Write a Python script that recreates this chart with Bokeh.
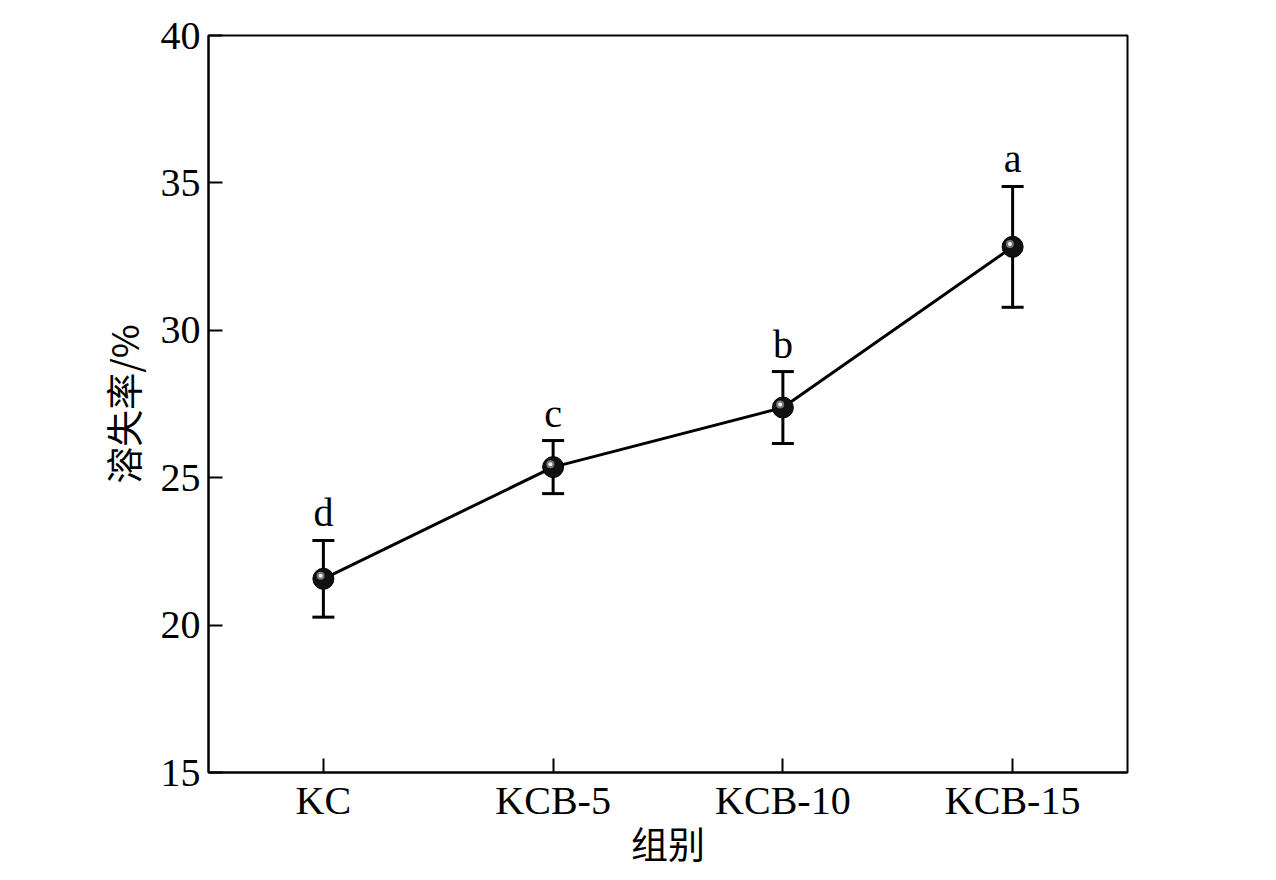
from bokeh.plotting import figure
from bokeh.models import ColumnDataSource, Whisker, FixedTicker, Range1d, TeeHead
from bokeh.embed import file_html
from bokeh.resources import INLINE
from bokeh.transform import dodge
from bokeh.core.properties import value

groups = ["KC", "KCB-5", "KCB-10", "KCB-15"]
rate = [21.57, 25.36, 27.38, 32.83]
err = [1.3, 0.9, 1.22, 2.05]
letters = ["d", "c", "b", "a"]
y_ticks = [15, 20, 25, 30, 35, 40]

upper = [r + e for r, e in zip(rate, err)]
lower = [r - e for r, e in zip(rate, err)]
src = ColumnDataSource(dict(groups=groups, rate=rate, upper=upper, lower=lower, letters=letters))

SERIF = "'Liberation Serif', 'Noto Sans CJK SC'"
CJK = "'Noto Sans CJK SC'"

p = figure(x_range=groups, y_range=Range1d(15, 40), width=1268, height=872,
           output_backend="svg", toolbar_location=None,
           min_border_left=208, min_border_right=141, min_border_top=35, min_border_bottom=100)
p.xgrid.visible = False
p.ygrid.visible = False
p.outline_line_color = "black"
p.outline_line_width = 2
p.outline_line_alpha = 1

for ax in (p.xaxis[0], p.yaxis[0]):
    ax.axis_line_width = 2
    ax.axis_line_color = "black"
    ax.major_tick_in = 14
    ax.major_tick_out = 0
    ax.major_tick_line_width = 2
    ax.minor_tick_line_color = None
    ax.major_label_text_font = SERIF
    ax.major_label_text_font_size = "40px"
    ax.major_label_text_color = "black"
    ax.axis_label_text_font = CJK
    ax.axis_label_text_font_style = "normal"
    ax.axis_label_text_font_size = "37px"
    ax.axis_label_text_color = "black"

p.yaxis.ticker = FixedTicker(ticks=y_ticks)
p.yaxis.major_label_standoff = 8
p.yaxis.axis_label = "溶失率/%"
p.yaxis.axis_label_standoff = 8
p.xaxis.axis_label = "组别"
p.xaxis.major_label_standoff = 5
p.xaxis.axis_label_standoff = -10

p.line(x="groups", y="rate", source=src, line_color="black", line_width=3)

w = Whisker(source=src, base="groups", upper="upper", lower="lower",
            line_color="black", line_width=3,
            upper_head=TeeHead(size=22, line_width=3, line_color="black"),
            lower_head=TeeHead(size=22, line_width=3, line_color="black"))
p.add_layout(w)

p.scatter(x="groups", y="rate", source=src, size=21, fill_color="#111111", line_color="black")
p.scatter(x=dodge("groups", -0.012, range=p.x_range), y=dodge("rate", 0.1), source=src,
          size=8, fill_color="#777777", line_color=None)
p.scatter(x=dodge("groups", -0.012, range=p.x_range), y=dodge("rate", 0.1), source=src,
          size=4, fill_color="#eeeeee", line_color=None)

p.text(x="groups", y="upper", text="letters", source=src, text_align="center",
       text_baseline="bottom", y_offset=-5, text_font=value("Liberation Serif"),
       text_font_size="40px", text_color="black")

open("out.html", "w").write(file_html(p, INLINE))
